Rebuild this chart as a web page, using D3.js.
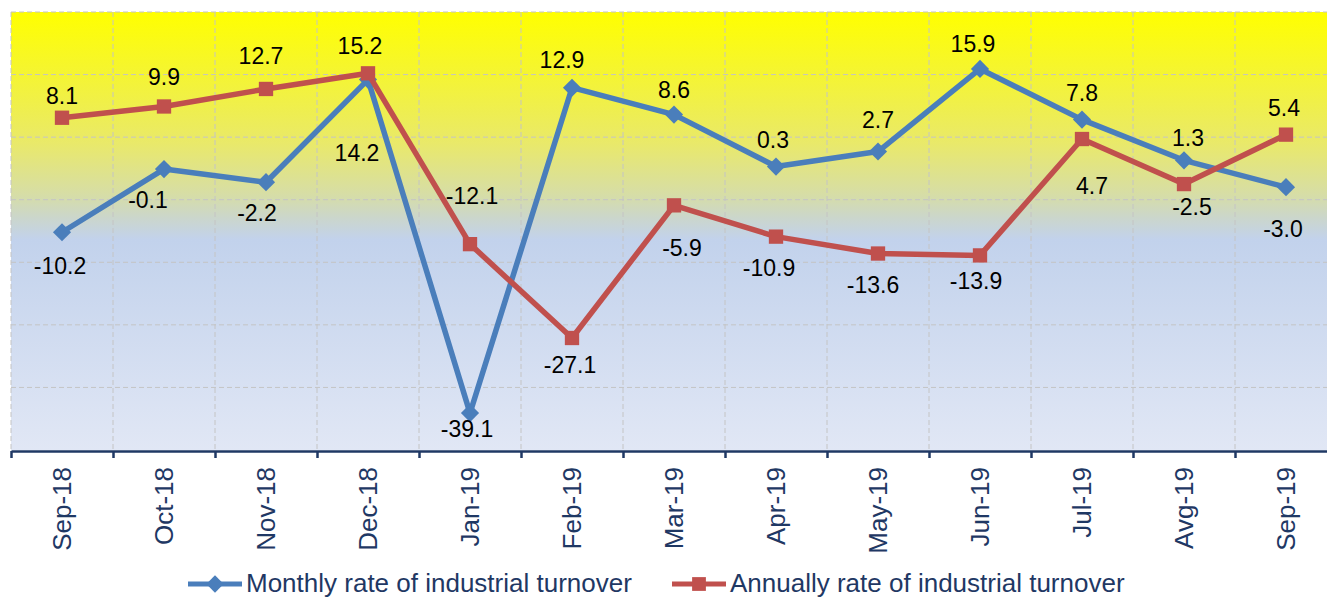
<!DOCTYPE html>
<html>
<head>
<meta charset="utf-8">
<script src="https://cdn.jsdelivr.net/npm/d3@7"></script>
<style>
  body { margin: 0; background: #fff; }
  svg text { font-family: Arial, "Liberation Sans", sans-serif; }
</style>
</head>
<body>
<div id="chart"></div>
<script>
const w = 1327,
      h = 597;
const plotLeft = 11, plotRight = 1337, plotTop = 12, plotBottom = 450;

// data
const months = ['Sep-18', 'Oct-18', 'Nov-18', 'Dec-18', 'Jan-19', 'Feb-19', 'Mar-19', 'Apr-19', 'May-19', 'Jun-19', 'Jul-19', 'Avg-19', 'Sep-19'];
const monthly = [-10.2, -0.1, -2.2, 14.2, -39.1, 12.9, 8.6, 0.3, 2.7, 15.9, 7.8, 1.3, -3.0];
const annual = [8.1, 9.9, 12.7, 15.2, -12.1, -27.1, -5.9, -10.9, -13.6, -13.9, 4.7, -2.5, 5.4];
const yDomain = [-45, 25];
const yGrid = [-35, -25, -15, -5, 5, 15, 25];
const seriesNames = ['Monthly rate of industrial turnover', 'Annually rate of industrial turnover'];

// label nudges [dx, dy] relative to the point
const monthlyLabelNudge = [[-2, 33], [-16, 31], [-9, 31], [-11, 73], [-3, 16], [-10, -28], [0, -25], [-3, -27], [0, -32], [-7, -25], [0, -27], [4, -23], [-3, 42]];
const annualLabelNudge = [[0, -22], [0, -30], [-5, -33], [-8, -28], [2, -48], [-2, 27], [8, 42], [-7, 31], [-5, 31], [-4, 25], [10, 47], [8, 23], [-2, -27]];

const blue = '#4a7ebb', red = '#c0504d', navy = '#1f3864';

const svg = d3.select('#chart').append('svg')
    .attr('width', w)
    .attr('height', h);

const x = d3.scaleBand().domain(months).range([plotLeft, plotRight]).padding(0);
const xb = d3.scaleLinear().domain([0, months.length]).range([plotLeft, plotRight]);
const y = d3.scaleLinear().domain(yDomain).range([plotBottom, plotTop]);

// background gradient
const defs = svg.append('defs');
const grad = defs.append('linearGradient').attr('id', 'bg')
    .attr('x1', 0).attr('y1', 0).attr('x2', 0).attr('y2', 1);
[[0, '#ffff00'], [0.3, '#e9e96a'], [0.42, '#d6dda8'], [0.47, '#cbd6cc'], [0.52, '#c2d2ec'], [1, '#e1e7f5']]
    .forEach(s => grad.append('stop').attr('offset', s[0]).attr('stop-color', s[1]));

svg.append('rect')
    .attr('x', plotLeft).attr('y', plotTop)
    .attr('width', plotRight - plotLeft).attr('height', plotBottom - plotTop)
    .attr('fill', 'url(#bg)');

// grid
const grid = svg.append('g').attr('stroke', '#c4c4c4').attr('stroke-width', 1).attr('stroke-dasharray', '5,3');
grid.selectAll('line.h').data(yGrid).enter().append('line')
    .attr('x1', plotLeft).attr('x2', plotRight)
    .attr('y1', d => y(d)).attr('y2', d => y(d));
grid.selectAll('line.v').data(d3.range(months.length + 1)).enter().append('line')
    .attr('x1', d => xb(d)).attr('x2', d => xb(d))
    .attr('y1', plotTop).attr('y2', plotBottom);

// x axis: boundary ticks
const tickAxis = svg.append('g')
    .attr('transform', 'translate(0,' + (plotBottom + 1) + ')')
    .call(d3.axisBottom(xb).tickValues(d3.range(months.length + 1)).tickSize(7).tickSizeOuter(0).tickFormat(''));
tickAxis.selectAll('path, line').attr('stroke', navy).attr('stroke-width', 2.5);

// x axis: labels
const labelAxis = svg.append('g')
    .attr('transform', 'translate(0,' + (plotBottom + 1) + ')')
    .call(d3.axisBottom(x).tickSize(0));
labelAxis.select('.domain').remove();
labelAxis.selectAll('text')
    .attr('fill', navy)
    .style('font-size', '26px')
    .attr('text-anchor', 'end')
    .attr('transform', 'rotate(-90)')
    .attr('x', -16)
    .attr('y', 0)
    .attr('dy', '0.36em');

// series
const line = d3.line()
    .x((d, i) => x(months[i]) + x.bandwidth() / 2)
    .y(d => y(d));

const drawSeries = (values, color, size, rot) => {
    const g = svg.append('g');
    g.append('path').datum(values)
        .attr('d', line)
        .attr('fill', 'none')
        .attr('stroke', color)
        .attr('stroke-width', 5.5)
        .attr('stroke-linejoin', 'round');
    g.selectAll('path.m').data(values).enter().append('path')
        .attr('class', 'm')
        .attr('d', d3.symbol().type(d3.symbolSquare).size(size))
        .attr('fill', color)
        .attr('transform', (d, i) => 'translate(' + (x(months[i]) + x.bandwidth() / 2) + ',' + y(d) + ') rotate(' + rot + ')');
};

const drawLabels = (values, nudge) => {
    svg.append('g').selectAll('text').data(values).enter().append('text')
        .attr('x', (d, i) => x(months[i]) + x.bandwidth() / 2 + nudge[i][0])
        .attr('y', (d, i) => y(d) + nudge[i][1])
        .attr('dy', '0.36em')
        .attr('text-anchor', 'middle')
        .style('font-size', '23px')
        .attr('fill', '#000')
        .text(d => d.toFixed(1));
};

drawSeries(monthly, blue, 165, 45);
drawSeries(annual, red, 205, 0);
drawLabels(monthly, monthlyLabelNudge);
drawLabels(annual, annualLabelNudge);

// legend
const legend = svg.append('g');
const legendItems = [
    { name: seriesNames[0], color: blue, rot: 45, size: 150, x0: 188 },
    { name: seriesNames[1], color: red, rot: 0, size: 190, x0: 672 }
];
legendItems.forEach(it => {
    const lg = legend.append('g').attr('transform', 'translate(' + it.x0 + ',584)');
    lg.append('line').attr('x1', 0).attr('x2', 54).attr('y1', 0).attr('y2', 0)
        .attr('stroke', it.color).attr('stroke-width', 5);
    lg.append('path').attr('d', d3.symbol().type(d3.symbolSquare).size(it.size))
        .attr('fill', it.color)
        .attr('transform', 'translate(27,0) rotate(' + it.rot + ')');
    lg.append('text').attr('x', 58).attr('y', 8)
        .style('font-size', '26px')
        .attr('fill', navy)
        .text(it.name);
});
</script>
</body>
</html>
